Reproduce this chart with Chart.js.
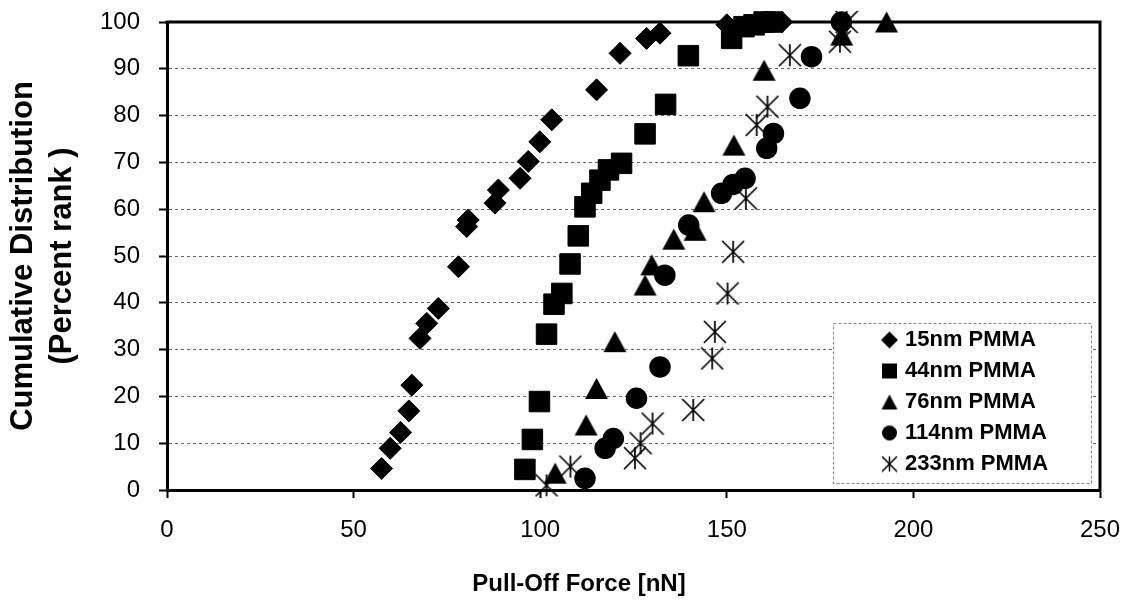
<!DOCTYPE html>
<html>
<head>
<meta charset="utf-8">
<script src="https://cdn.jsdelivr.net/npm/chart.js@4.4.1/dist/chart.umd.min.js"></script>
<style>
  html, body { margin: 0; padding: 0; background: #fff; }
  #wrap { width: 1135px; height: 606px; }
</style>
</head>
<body>
<div id="wrap"><canvas id="c" width="1135" height="606"></canvas></div>
<script>
// ---------- DATA ----------
const seriesNames = ['15nm PMMA', '44nm PMMA', '76nm PMMA', '114nm PMMA', '233nm PMMA'];

const force15 = [57.5, 59.8, 62.6, 64.8, 65.6, 67.8, 69.6, 72.7, 78.1, 80.3, 80.7, 87.9, 88.8, 94.6, 96.8, 99.9, 103.1, 115.1, 121.4, 128.5, 132.1, 150.0, 164.7];
const rank15  = [4.6, 8.9, 12.3, 16.9, 22.4, 32.4, 35.6, 38.8, 47.7, 56.3, 57.7, 61.3, 64.1, 66.6, 70.2, 74.4, 79.1, 85.5, 93.3, 96.5, 97.6, 99.4, 100];

const force44 = [95.9, 97.9, 99.8, 101.7, 103.7, 105.8, 108.0, 110.2, 112.0, 113.8, 116.0, 118.3, 121.8, 128.1, 133.6, 139.7, 151.3, 154.6, 157.3, 160.0, 162.3];
const rank44  = [4.4, 10.8, 18.9, 33.3, 39.7, 42.0, 48.3, 54.3, 60.5, 63.4, 66.2, 68.4, 69.8, 76.1, 82.4, 92.8, 96.5, 99.0, 99.4, 100, 100];

const force76 = [104.0, 112.3, 115.1, 120.0, 128.1, 129.9, 135.8, 141.5, 143.9, 151.9, 160.0, 180.8, 192.8];
const rank76  = [3.6, 13.9, 21.7, 31.7, 43.8, 48.1, 53.6, 55.5, 61.6, 73.7, 89.7, 97.2, 100];

const force114 = [112.0, 117.4, 119.6, 125.8, 132.1, 133.4, 139.8, 148.6, 151.7, 154.9, 160.7, 162.5, 169.6, 172.7, 180.7];
const rank114  = [2.5, 8.9, 11.0, 19.6, 26.3, 45.9, 56.6, 63.4, 65.3, 66.6, 73.0, 76.2, 83.7, 92.6, 100];

const force233 = [101.7, 108.1, 125.4, 126.9, 130.1, 141.0, 146.1, 146.8, 150.2, 151.7, 155.1, 158.0, 160.9, 166.9, 180.3, 182.1];
const rank233  = [1.0, 5.0, 6.8, 10.0, 14.2, 17.1, 28.1, 33.8, 42.0, 50.9, 62.3, 78.0, 81.9, 92.9, 95.8, 100];

const xTicks = [0, 50, 100, 150, 200, 250];
const yTicks = [0, 10, 20, 30, 40, 50, 60, 70, 80, 90, 100];
const xTitle = 'Pull-Off Force [nN]';
const yTitle = ['Cumulative Distribution', '(Percent rank )'];

// ---------- MARKER IMAGES ----------
function makeTriangle(w, h) {
  const c = document.createElement('canvas');
  c.width = Math.ceil(w) + 2; c.height = Math.ceil(h) + 2;
  const g = c.getContext('2d');
  g.fillStyle = '#000';
  g.beginPath();
  g.moveTo(c.width / 2, 1);
  g.lineTo(c.width - 1, c.height - 1);
  g.lineTo(1, c.height - 1);
  g.closePath();
  g.fill();
  return c;
}
function makeStar(s, lw) {
  const c = document.createElement('canvas');
  c.width = s + 2; c.height = s + 2;
  const g = c.getContext('2d');
  g.strokeStyle = '#000';
  g.lineWidth = lw;
  g.beginPath();
  g.moveTo(c.width / 2, 1); g.lineTo(c.width / 2, s + 1);
  g.moveTo(1, 1); g.lineTo(s + 1, s + 1);
  g.moveTo(s + 1, 1); g.lineTo(1, s + 1);
  g.stroke();
  return c;
}
function makeDiamond(s) {
  const c = document.createElement('canvas');
  c.width = s + 2; c.height = s + 2;
  const g = c.getContext('2d');
  const m = c.width / 2;
  g.fillStyle = '#000';
  g.beginPath();
  g.moveTo(m, 1); g.lineTo(s + 1, m); g.lineTo(m, s + 1); g.lineTo(1, m);
  g.closePath(); g.fill();
  return c;
}
function makeSquare(s) {
  const c = document.createElement('canvas');
  c.width = s + 2; c.height = s + 2;
  const g = c.getContext('2d');
  g.fillStyle = '#000';
  g.fillRect(1, 1, s, s);
  return c;
}
function makeCircle(s) {
  const c = document.createElement('canvas');
  c.width = s + 2; c.height = s + 2;
  const g = c.getContext('2d');
  g.fillStyle = '#000';
  g.beginPath(); g.arc(c.width / 2, c.height / 2, s / 2, 0, Math.PI * 2); g.fill();
  return c;
}

const triBig = makeTriangle(23, 21);
const starBig = makeStar(22, 1.7);
const legendIcons = [makeDiamond(17), makeSquare(15), makeTriangle(16, 15), makeCircle(15), makeStar(15, 1.5)];

function pts(xs, ys) { return xs.map((x, i) => ({ x: x, y: ys[i] })); }

const FONT = "'Liberation Sans', Arial, sans-serif";

// ---------- PLUGINS ----------
const LEG_BOX = { l: 833, t: 323, r: 1091, b: 483 };
const framePlugin = {
  id: 'frame',
  afterLayout(chart) {
    const lg = chart.legend;
    if (!lg) return;
    lg.left = 876; lg.top = 320; lg.right = 1091; lg.bottom = 505;
    lg.width = lg.right - lg.left; lg.height = lg.bottom - lg.top;
    if (!lg.__wrapped) {
      const orig = lg.draw;
      lg.draw = function (area) {
        const ctx = this.ctx;
        ctx.save();
        ctx.fillStyle = '#fff';
        ctx.fillRect(LEG_BOX.l, LEG_BOX.t, LEG_BOX.r - LEG_BOX.l, LEG_BOX.b - LEG_BOX.t);
        ctx.strokeStyle = '#888';
        ctx.lineWidth = 1;
        ctx.setLineDash([3, 2]);
        ctx.strokeRect(LEG_BOX.l + 0.5, LEG_BOX.t + 0.5, LEG_BOX.r - LEG_BOX.l, LEG_BOX.b - LEG_BOX.t);
        ctx.restore();
        orig.call(this, area);
      };
      lg.__wrapped = true;
    }
  },
  beforeDatasetsDraw(chart) {
    const a = chart.chartArea, ctx = chart.ctx;
    ctx.save();
    ctx.strokeStyle = '#000';
    ctx.lineWidth = 3;
    ctx.beginPath();
    ctx.moveTo(a.left - 1.5, a.top);
    ctx.lineTo(a.right, a.top);
    ctx.lineTo(a.right, a.bottom + 1.5);
    ctx.stroke();
    ctx.restore();
  }
};

// ---------- CHART ----------
const common = { showLine: false, clip: false, backgroundColor: '#000', borderColor: '#000' };

new Chart(document.getElementById('c'), {
  type: 'scatter',
  data: {
    datasets: [
      Object.assign({ label: seriesNames[0], data: pts(force15, rank15), pointStyle: 'rectRot', pointRadius: 11, pointBorderWidth: 1 }, common),
      Object.assign({ label: seriesNames[1], data: pts(force44, rank44), pointStyle: 'rect', pointRadius: 14.5, pointBorderWidth: 1 }, common),
      Object.assign({ label: seriesNames[2], data: pts(force76, rank76), pointStyle: triBig, pointRadius: 11, pointBorderWidth: 0 }, common),
      Object.assign({ label: seriesNames[3], data: pts(force114, rank114), pointStyle: 'circle', pointRadius: 10, pointBorderWidth: 1.5 }, common),
      Object.assign({ label: seriesNames[4], data: pts(force233, rank233), pointStyle: starBig, pointRadius: 11, pointBorderWidth: 0 }, common)
    ]
  },
  options: {
    responsive: false,
    animation: false,
    events: [],
    layout: { padding: { left: 58, top: 22, right: 35, bottom: 0 } },
    plugins: {
      tooltip: { enabled: false },
      title: {
        display: true,
        position: 'bottom',
        fullSize: true,
        text: xTitle,
        color: '#000',
        padding: { top: 0, bottom: 7.6 },
        font: { family: FONT, size: 24, weight: 'bold', lineHeight: 1.2 }
      },
      legend: {
        position: 'chartArea',
        align: 'start',
        labels: {
          usePointStyle: true,
          boxWidth: 9,
          boxHeight: 12,
          padding: 9,
          color: '#000',
          font: { family: FONT, size: 22, weight: 'bold' },
          generateLabels(chart) {
            const items = Chart.defaults.plugins.legend.labels.generateLabels(chart);
            items.forEach((it, i) => {
              it.pointStyle = legendIcons[i];
              it.fillStyle = '#000';
              it.strokeStyle = '#000';
              it.lineWidth = 0;
              it.fontColor = '#000';
            });
            return items;
          }
        }
      }
    },
    scales: {
      x: {
        type: 'linear',
        min: xTicks[0],
        max: xTicks[xTicks.length - 1],
        afterBuildTicks(scale) { scale.ticks = xTicks.map(v => ({ value: v })); },
        afterFit(scale) { scale.height = 79.6; scale.paddingLeft = 0; scale.paddingRight = 0; },
        grid: { drawOnChartArea: false, drawTicks: true, tickLength: 8, tickColor: '#000', tickWidth: 2 },
        border: { display: true, color: '#000', width: 3 },
        ticks: { color: '#000', padding: 18, maxRotation: 0, font: { family: FONT, size: 24 } }
      },
      y: {
        type: 'linear',
        min: yTicks[0],
        max: yTicks[yTicks.length - 1],
        afterBuildTicks(scale) { scale.ticks = yTicks.map(v => ({ value: v })); },
        afterFit(scale) { scale.width = 109; scale.paddingTop = 0; scale.paddingBottom = 0; },
        grid: { drawOnChartArea: true, drawTicks: true, tickLength: 8, color: '#666', lineWidth: 1, tickColor: '#000', tickWidth: 2 },
        border: { display: true, color: '#000', width: 3, dash: [3, 3] },
        ticks: { color: '#000', padding: 19, font: { family: FONT, size: 24 } },
        title: { display: true, text: yTitle, color: '#000', padding: { top: -54.5, bottom: 0 }, font: { family: FONT, size: 31, weight: 'bold', lineHeight: 1.26 } }
      }
    }
  },
  plugins: [framePlugin]
});
</script>
</body>
</html>
